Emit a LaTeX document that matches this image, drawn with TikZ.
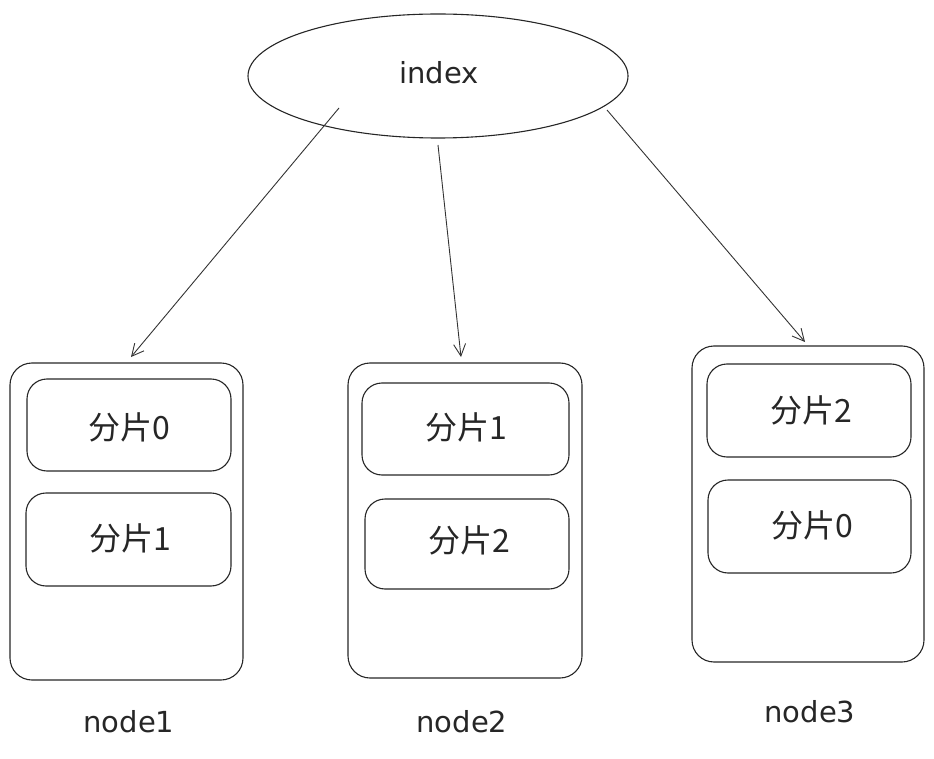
\documentclass[tikz,border=0pt]{standalone}
\usepackage{fontspec}
\setmainfont{DejaVu Sans}
\newfontfamily\cjk{Noto Sans CJK SC}
\usetikzlibrary{arrows.meta,shapes.geometric}
\begin{document}
\begin{tikzpicture}[x=1pt,y=-1pt,
  outerbox/.style={draw=black!85,line width=1.1pt,rounded corners=22pt},
  innerbox/.style={draw=black!85,line width=1.1pt,rounded corners=20pt},
  lbl/.style={font=\cjk\fontsize{32}{36}\selectfont,text=black!85},
  nlbl/.style={font=\fontsize{29}{32}\selectfont,text=black!85},
  conn/.style={draw=black!80,line width=0.9pt,-{Straight Barb[length=12pt,width=12pt]}}]
\useasboundingbox (0,0) rectangle (934,759);
% index
\node[draw=black!85,line width=1.1pt,ellipse,minimum width=380pt,minimum height=124pt] (idx) at (438,76) {};
\node[nlbl] (idxt) at (439,73) {index};
% node1
\draw[outerbox] (10,363) rectangle (243,680);
\draw[innerbox] (27,379) rectangle (231,471);
\draw[innerbox] (26,493) rectangle (231,586);
\node[lbl] (a0) at (129,427) {分片0};
\node[lbl] (a1) at (130,538) {分片1};
\node[nlbl] (n1) at (129,722) {node1};
% node2
\draw[outerbox] (348,363) rectangle (582,678);
\draw[innerbox] (362,383) rectangle (569,475);
\draw[innerbox] (365,499) rectangle (569,589);
\node[lbl] (b1) at (466,427) {分片1};
\node[lbl] (b2) at (469,540) {分片2};
\node[nlbl] (n2) at (462,722) {node2};
% node3
\draw[outerbox] (692,346) rectangle (924,662);
\draw[innerbox] (707,364) rectangle (911,457);
\draw[innerbox] (708,480) rectangle (911,573);
\node[lbl] (c2) at (811,410) {分片2};
\node[lbl] (c0) at (812,525) {分片0};
\node[nlbl] (n3) at (810,712) {node3};
% arrows
\coordinate (s1) at (339,108);
\coordinate (e1) at (131,357);
\coordinate (s2) at (438,145);
\coordinate (e2) at (461,357);
\coordinate (s3) at (607,110);
\coordinate (e3) at (805,342);
\draw[conn] (s1) -- (e1);
\draw[conn] (s2) -- (e2);
\draw[conn] (s3) -- (e3);
\end{tikzpicture}
\end{document}
